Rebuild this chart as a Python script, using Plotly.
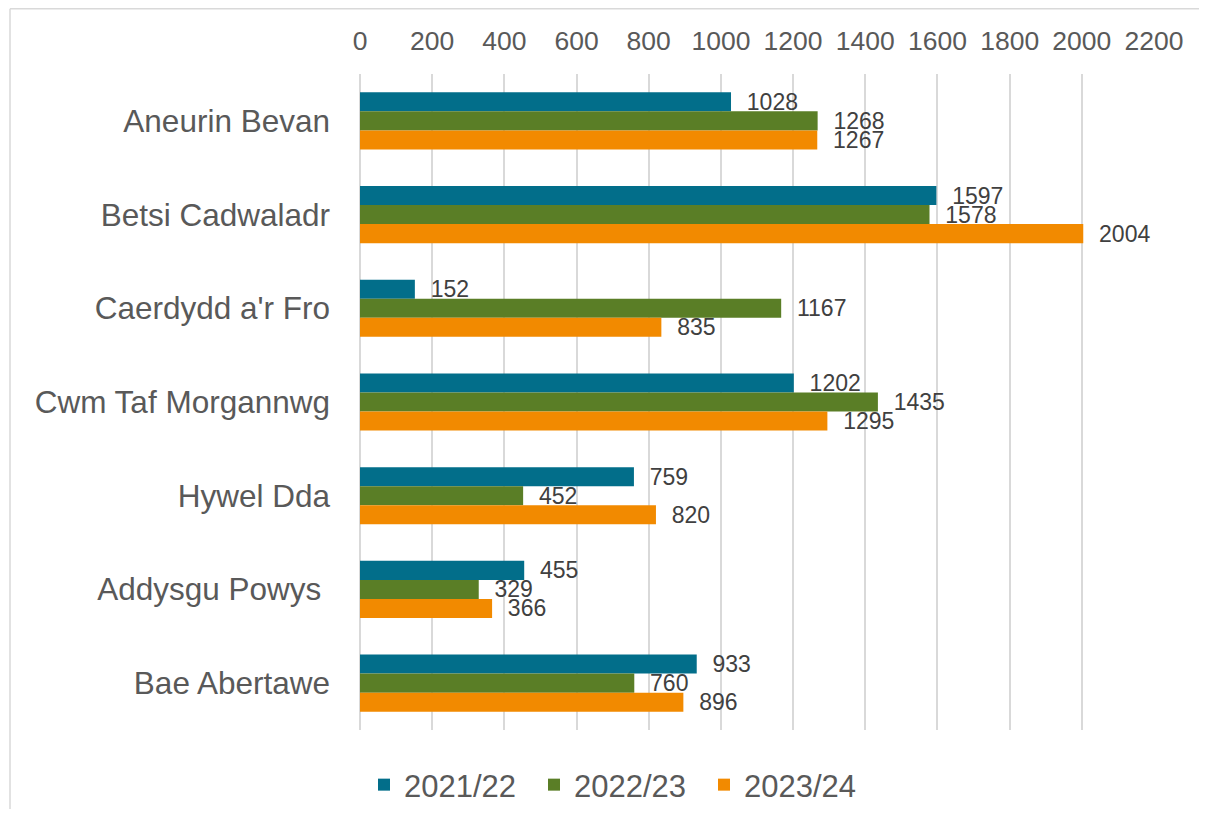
import plotly.graph_objects as go

categories = ["Aneurin Bevan", "Betsi Cadwaladr", "Caerdydd a'r Fro", "Cwm Taf Morgannwg",
              "Hywel Dda", "Addysgu Powys\u00a0", "Bae Abertawe"]
series_names = ["2021/22", "2022/23", "2023/24"]
values_2021_22 = [1028, 1597, 152, 1202, 759, 455, 933]
values_2022_23 = [1268, 1578, 1167, 1435, 452, 329, 760]
values_2023_24 = [1267, 2004, 835, 1295, 820, 366, 896]
x_ticks = [0, 200, 400, 600, 800, 1000, 1200, 1400, 1600, 1800, 2000, 2200]

colors = ["#026E8A", "#5A7E26", "#F28A00"]
FONT = "Arial, Liberation Sans, sans-serif"

fig = go.Figure()
for name, vals, col in zip(series_names, [values_2021_22, values_2022_23, values_2023_24], colors):
    fig.add_trace(go.Bar(
        y=categories, x=vals, name=name, orientation="h",
        marker=dict(color=col, line=dict(width=0)),
        text=vals, texttemplate="\u00a0\u00a0%{x}", textposition="outside",
        textfont=dict(family=FONT, size=23, color="#404040"),
        cliponaxis=False, constraintext="none",
    ))

# page has an 8px body margin; reference pixel p -> figure pixel p - 8
OFF = 8
W, H = 1208 - 2 * OFF, 818 - 2 * OFF
L, T = 360 - OFF, 74 - OFF
R = W - (1154 - OFF)
B = H - (730 - OFF)
pw, ph = W - L - R, H - T - B

def px_x(p):
    return (p - OFF - L) / pw

def px_y(p):
    return 1 - (p - OFF - T) / ph

border = dict(color="#D9D9D9", width=1.5)

fig.update_layout(
    width=W, height=H,
    margin=dict(l=L, r=R, t=T, b=B, autoexpand=False),
    paper_bgcolor="white", plot_bgcolor="white",
    barmode="group", bargap=0.39, bargroupgap=0,
    font=dict(family=FONT, color="#595959"),
    showlegend=True,
    legend=dict(orientation="h", x=px_x(364), xanchor="left", y=px_y(785), yanchor="middle",
                font=dict(family=FONT, size=31, color="#595959"), traceorder="normal",
                entrywidth=125, itemwidth=30),
    xaxis=dict(side="top", range=[0, 2200], tickvals=x_ticks, showgrid=True,
               gridcolor="#D9D9D9", gridwidth=1.5, zeroline=True, zerolinecolor="#D9D9D9",
               zerolinewidth=1.5, showline=False, ticks="", automargin=False,
               tickfont=dict(family=FONT, size=26.5, color="#595959"), ticklabelstandoff=18),
    yaxis=dict(autorange="reversed", showgrid=False, ticks="", showline=False, automargin=False,
               tickfont=dict(family=FONT, size=31.5, color="#595959"), ticklabelstandoff=29),
    shapes=[
        dict(type="line", xref="paper", yref="paper",
             x0=px_x(10), x1=px_x(1199), y0=px_y(8.75), y1=px_y(8.75), line=border, layer="below"),
        dict(type="line", xref="paper", yref="paper",
             x0=px_x(10), x1=px_x(10), y0=px_y(8.75), y1=px_y(809), line=border, layer="below"),
    ],
)

fig.write_html("out.html")
